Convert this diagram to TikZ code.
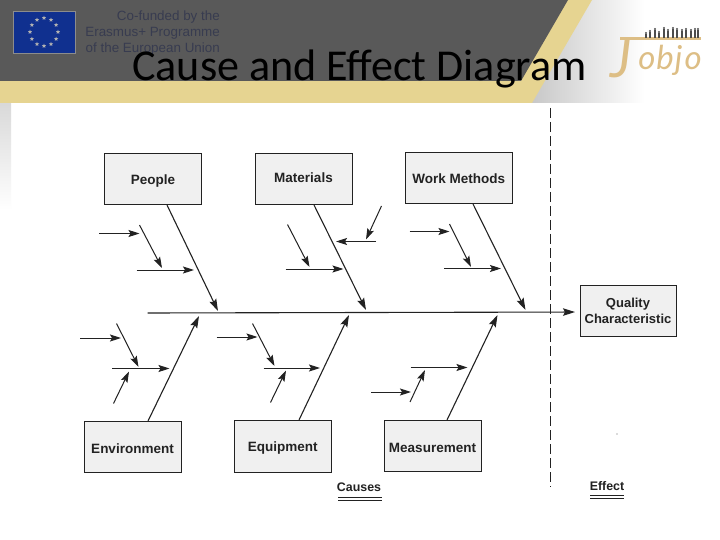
\documentclass[tikz,border=0pt]{standalone}
\usepackage{fontspec}
\setmainfont{Liberation Sans}
\newfontfamily\titlefont{Carlito}
\newfontfamily\logofont{Lato}
\usepackage{xcolor}
\usetikzlibrary{arrows.meta,positioning,calc,shapes.geometric}
\definecolor{headgray}{HTML}{595959}
\definecolor{headgold}{HTML}{E6D491}
\definecolor{eublue}{HTML}{10308F}
\definecolor{logogold}{HTML}{DDBE85}
\definecolor{inkdark}{HTML}{222222}
\definecolor{eugray}{HTML}{383C50}
\tikzset{
  causebox/.style={draw=inkdark,line width=1pt,fill=black!6,font=\bfseries\fontsize{13.5}{16}\selectfont,text=inkdark,align=center,inner sep=0pt},
  bone/.style={draw=inkdark,line width=1.1pt,-{Stealth[length=12pt,width=7.5pt,inset=2pt]}},
  twig/.style={draw=inkdark,line width=1pt,-{Stealth[length=11pt,width=7pt,inset=2pt]}},
  eutext/.style={font=\fontsize{13.4}{16}\selectfont,text=eugray,anchor=east,inner sep=0pt},
  footlabel/.style={font=\bfseries\fontsize{12.4}{14}\selectfont,text=inkdark}
}

\begin{document}
\begin{tikzpicture}[x=1pt,y=-1pt]
\useasboundingbox (0,0) rectangle (720,540);
\fill[white] (0,0) rectangle (720,540);

\shade[left color=black!22,right color=white] (530,0) rectangle (645,103);
\fill[white] (645,0) rectangle (720,103);
\shade[top color=black!15,bottom color=white] (0,103) rectangle (11,210);
\fill[headgold] (0,0) -- (592,0) -- (532,103) -- (0,103) -- cycle;
\fill[headgray] (0,0) -- (568,0) -- (521,81) -- (0,81) -- cycle;

\fill[eublue] (13,11) rectangle (75,53);
\draw[black!45,line width=0.5pt] (13,11) rectangle (75,53);
\foreach \a in {0,30,...,330} {
  \node[star,star points=5,star point ratio=2.2,fill=black!30,inner sep=0pt,minimum size=4.5pt] (eustar\a) at ($(44,32)+(\a:14)$) {};
}
\node[eutext] (eu1) at (220,17) {Co-funded by the};
\node[eutext] (eu2) at (220,33) {Erasmus+ Programme};
\node[eutext] (eu3) at (220,49) {of the European Union};

\node[font=\titlefont\fontsize{44.1}{50}\selectfont,text=black,anchor=base] (title) at (359.5,80.5) {Cause and Effect Diagram};

\fill[logogold] (620,37) rectangle (701,40.5);
\foreach \x/\h in {646/6,650/8,655/10,659/7,664/11,668/9,673/11,677/10,682/9,686/10,691/9,695/10,698/10} {
  \fill[black!70] (\x-0.8,38) rectangle (\x+0.8,38-\h+2);
  \fill[black!70] (\x,38-\h+1) circle (1.1);
}
\node[font=\logofont\itshape\fontsize{53}{53}\selectfont,text=logogold] (logoj) at (621,59) {J};
\node[font=\logofont\itshape\fontsize{33}{33}\selectfont,text=logogold] (logotxt) at (670,60) {o\kern1pt b\kern1pt j\kern2pt o};

\foreach \name/\txt/\xa/\ya/\xb/\yb/\th in {
  people/People/104.5/154/201.5/205/10,
  materials/Materials/255/153.5/352/204.5/8,
  work/Work Methods/405.5/153/512/204/11,
  environ/Environment/84/421/181/472.5/12.5,
  equip/Equipment/234/420/331.5/472/10,
  measure/Measurement/384/420/481/471/13} {
  \node[causebox,text height=\th pt,text depth=0pt,minimum width=\xb pt-\xa pt,minimum height=\yb pt-\ya pt] (\name) at ({(\xa+\xb)/2},{(\ya+\yb)/2}) {\txt};
}
\node[causebox,font=\bfseries\fontsize{13}{16}\selectfont,minimum width=96pt,minimum height=50.5pt] (quality) at (628,311) {Quality\\[0pt]Characteristic};

\foreach \name/\x/\y in {
  spa/147.5/313,spb/585/312,
  pa/167/205,pb/218/311,ma/314/205,mb/366/310,wa/473/204,wb/525.5/310,
  ea/148/421,eb/199/316,qa/299/420,qb/349/315,sa/447/420,sb/497.5/315,
  dasha/550/108,dashb/550/487,
  ca/338/497,cb/382/497,cc/338/500,cd/382/500,
  fa/590/495,fb/624/495,fc/590/498,fd/624/498} {
  \coordinate (\name) at (\x,\y);
}
\draw[bone,shorten >=10pt] (spa)--(spb);
\foreach \a/\b in {pa/pb,ma/mb,wa/wb,ea/eb,qa/qb,sa/sb} {
  \draw[bone] (\a)--(\b);
}
\foreach \name/\xa/\ya/\xb/\yb in {
  p1/99/233.5/139.5/233.5,p2/139.5/225/162/268,p3/136.5/270/194/270,
  m1/287.5/224.5/309.5/267,m2/285.5/269/343.5/269,m3/381.5/206/366/239.5,m4/376/241.5/336/241.5,
  w1/409.5/231.5/449.5/231.5,w2/449.5/224/471/267,w3/444/268.5/501/268.5,
  e1/80/338/121/338,e2/116.5/323.5/138.5/367,e3/112/368.5/169.5/368.5,e4/113.5/403.5/129/371.5,
  q1/216.5/337/257.5/337,q2/252.5/323.5/274.5/366,q3/263.5/368/320/368,q4/270.5/402.5/286/370.5,
  s1/410.5/367.5/467.5/367.5,s2/410/402/425/370,s3/371/392/411/392} {
  \coordinate (\name a) at (\xa,\ya);
  \coordinate (\name b) at (\xb,\yb);
  \draw[twig] (\name a)--(\name b);
}
\draw[inkdark,line width=1pt,dash pattern=on 10pt off 4pt] (dasha)--(dashb);
\fill[black!60] (617,434) circle (0.6);

\node[footlabel] (causes) at (359,487) {Causes};
\draw[inkdark,line width=0.9pt] (ca)--(cb) (cc)--(cd);
\node[footlabel] (effect) at (607,486) {Effect};
\draw[inkdark,line width=0.9pt] (fa)--(fb) (fc)--(fd);
\end{tikzpicture}
\end{document}
